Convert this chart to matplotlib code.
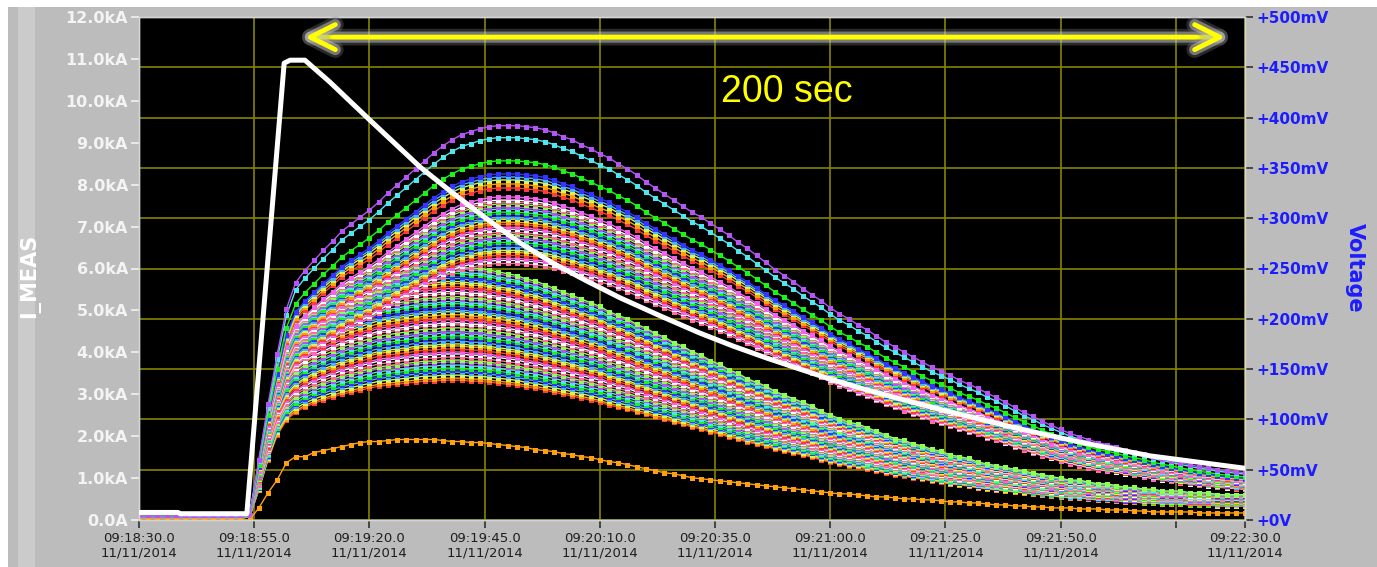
import numpy as np
import matplotlib.pyplot as plt
import matplotlib.patheffects as pe
from matplotlib.patches import Rectangle

# --- data -------------------------------------------------------------------
# sample grid of the voltage channels: seconds after 09:18:30 (2 s steps)
t_sec = np.arange(0, 241, 2)

# shape of the highest (purple) channel, mV
profile_high = [
    3, 3, 3, 3, 3, 3, 3, 3, 3, 3,
    3, 3, 5, 60, 115, 165, 210, 236, 248, 258,
    268, 277, 287, 294, 301, 308, 316, 325, 333, 341,
    349, 357, 365, 372, 378, 383, 386, 389, 391, 392,
    392, 392, 391, 390, 388, 385, 381, 378, 373, 369,
    364, 360, 354, 349, 343, 336, 330, 324, 318, 312,
    306, 301, 295, 289, 283, 276, 270, 263, 256, 249,
    243, 237, 230, 224, 218, 211, 205, 200, 194, 189,
    183, 177, 172, 167, 162, 157, 152, 148, 144, 139,
    135, 131, 126, 122, 117, 112, 107, 103, 98, 94,
    90, 86, 83, 80, 77, 75, 73, 70, 68, 66,
    63, 61, 59, 57, 55, 53, 52, 50, 49, 48,
    47]

# shape of the lowest channels of the main bundle, mV
profile_low = [
    2, 2, 2, 2, 2, 2, 2, 2, 2, 2,
    2, 2, 3, 30, 60, 85, 100, 108, 113, 117,
    120, 123, 126, 128, 130, 132, 134, 135, 136, 137,
    138, 139, 139, 140, 140, 140, 139, 139, 138, 137,
    136, 135, 133, 132, 130, 128, 126, 124, 122, 120,
    118, 115, 113, 111, 108, 106, 103, 101, 98, 96,
    93, 91, 88, 86, 83, 81, 78, 76, 74, 71,
    69, 67, 65, 63, 60, 58, 56, 54, 53, 51,
    49, 47, 45, 44, 42, 41, 39, 38, 36, 35,
    34, 32, 31, 30, 29, 28, 27, 26, 25, 24,
    23, 22, 22, 21, 20, 20, 19, 18, 18, 17,
    17, 16, 16, 16, 15, 15, 15, 14, 14, 14,
    14]

# the single low orange channel, mV
orange_mv = [
    0, 0, 0, 0, 0, 0, 0, 0, 0, 0,
    0, 0, 0, 12, 27, 40, 57, 63, 63, 67,
    69, 71, 73, 75, 77, 78, 78, 79, 80, 80,
    80, 80, 80, 79, 78, 78, 77, 77, 76, 75,
    74, 73, 72, 70, 69, 68, 66, 65, 63, 62,
    60, 58, 57, 55, 53, 51, 49, 47, 46, 44,
    42, 41, 40, 39, 38, 37, 36, 35, 34, 33,
    32, 31, 30, 29, 28, 27, 26, 26, 25, 24,
    23, 23, 22, 21, 21, 20, 20, 19, 18, 18,
    17, 17, 16, 15, 15, 14, 14, 13, 13, 12,
    12, 12, 11, 11, 11, 10, 10, 10, 9, 9,
    8, 8, 8, 8, 8, 7, 7, 7, 7, 7,
    7]

# peak voltage of each channel (mV)
peaks_high = [392, 380, 357, 344, 341, 338, 334, 330, 321, 318, 316, 314,
              311, 309, 306, 304, 301, 299, 296, 294, 291, 289, 286, 284,
              281, 279, 276, 274, 271, 268, 266, 263, 260, 258, 255]
peaks_low = [252, 250, 247, 245, 242, 240, 237, 235, 232, 230, 227, 225,
             222, 220, 217, 215, 212, 209, 207, 204, 201, 199, 196, 194,
             191, 188, 186, 183, 181, 178, 175, 173, 170, 167, 165, 162,
             159, 157, 154, 151, 149, 147, 144, 141, 139]

# I_MEAS (white trace), seconds after 09:18:30 and kA
cur_t = [0, 8.5, 8.9, 23.4, 31.5, 32.8, 36.0, 41.4, 50.1, 61.0, 68.1, 75.5,
         82.7, 89.8, 97.2, 104.4, 113.1, 121.7, 128.9, 136.3, 143.4, 150.6,
         158.0, 165.1, 176.0, 190.5, 204.9, 219.4, 239.6]
cur_ka = [0.18, 0.18, 0.15, 0.15, 10.9, 10.97, 10.97, 10.45, 9.54, 8.42, 7.80,
          7.18, 6.61, 6.13, 5.70, 5.30, 4.87, 4.46, 4.15, 3.86, 3.60, 3.34,
          3.10, 2.89, 2.58, 2.19, 1.84, 1.53, 1.24]

xtick_sec = [0, 25, 50, 75, 100, 125, 150, 175, 200, 225, 240]
xtick_labels = ['09:18:30.0\n11/11/2014', '09:18:55.0\n11/11/2014',
                '09:19:20.0\n11/11/2014', '09:19:45.0\n11/11/2014',
                '09:20:10.0\n11/11/2014', '09:20:35.0\n11/11/2014',
                '09:21:00.0\n11/11/2014', '09:21:25.0\n11/11/2014',
                '09:21:50.0\n11/11/2014', '', '09:22:30.0\n11/11/2014']
ka_ticks = list(range(0, 13))
ka_labels = ['0.0A'] + ['%d.0kA' % k for k in range(1, 13)]
mv_ticks = list(range(0, 501, 50))
mv_labels = ['+0V'] + ['+%dmV' % v for v in range(50, 501, 50)]

palette = ['#b455f5', '#4fe6f0', '#19f519', '#3535ff', '#4ab4ff', '#d7f55a',
           '#ffa010', '#ff3c3c', '#f064f0', '#ffffff', '#ff6e96', '#8cff50']

# --- figure -------------------------------------------------------------------
W, H = 1377, 567
fig = plt.figure(figsize=(W / 100, H / 100), dpi=100)
fig.patch.set_facecolor('white')
fig.add_artist(Rectangle((8 / W, 0), 1 - 8 / W, 1 - 7 / H, transform=fig.transFigure,
                         facecolor='#bcbcbc', edgecolor='none', zorder=-10))
fig.add_artist(Rectangle((18 / W, 0), 17 / W, 1 - 7 / H, transform=fig.transFigure,
                         facecolor='#cbcbcb', edgecolor='none', zorder=-9))

ax = fig.add_axes([139 / W, 1 - 520 / H, (1245 - 139) / W, (520 - 17) / H])
ax.set_facecolor('black')
axi = ax.twinx()
ax.yaxis.tick_right()
axi.yaxis.tick_left()

ax.set_xlim(0, 240)
ax.set_ylim(0, 500)
axi.set_ylim(0, 12)

# voltage channels
prof_h = np.array(profile_high, dtype=float)
prof_l = np.array(profile_low, dtype=float)
curves = [(p, prof_h) for p in peaks_high] + [(p, prof_l) for p in peaks_low]
for i, (peak, prof) in reversed(list(enumerate(curves))):
    c = palette[i % len(palette)]
    ax.plot(t_sec, prof * peak / prof.max(), '-s', color=c, lw=1.0, ms=3.6,
            mec=c, mew=0)
ax.plot(t_sec, orange_mv, '-s', color='#ffa010', lw=1.0, ms=3.6, mew=0)

# current
axi.plot(cur_t, cur_ka, color='white', lw=3.6, solid_joinstyle='round', zorder=5)

# grid + ticks
ax.set_xticks(xtick_sec, xtick_labels, fontsize=9.5, color='#1e1e1e',
              linespacing=1.05)
ax.set_yticks(mv_ticks, mv_labels, fontsize=11, fontweight='bold', color='#1c1cff')
axi.set_yticks(ka_ticks, ka_labels, fontsize=11.5, fontweight='bold', color='#f4f4f4')
ax.grid(True, color='#858500', lw=1.2)
ax.set_axisbelow(True)
ax.tick_params(axis='x', length=6, width=1.2, color='#303030', pad=3)
ax.tick_params(axis='y', length=6, width=1.2, color='#303030', pad=2)
axi.tick_params(axis='y', length=6, width=1.2, color='#f0f0f0', pad=2)
for a in (ax, axi):
    for s in a.spines.values():
        s.set_color('#d4d4d4')
        s.set_linewidth(1.0)

fig.text(30 / W, 1 - 276 / H, 'I_MEAS', rotation=90, color='white',
         fontsize=15, fontweight='bold', ha='center', va='center')
fig.text(1355 / W, 1 - 268 / H, 'Voltage', rotation=270, color='#1c1cff',
         fontsize=15, fontweight='bold', ha='center', va='center')

# 200 s span marker
arr = axi.annotate('', xy=(0.982, 0.960), xytext=(0.150, 0.960),
                   xycoords='axes fraction', textcoords='axes fraction',
                   arrowprops=dict(arrowstyle='<->,head_length=0.9,head_width=0.45',
                                   color='#ffff00', lw=3.5, mutation_scale=20,
                                   shrinkA=0, shrinkB=0))
arr.arrow_patch.set_path_effects([
    pe.Stroke(linewidth=12, foreground='#8a8a8a', alpha=0.3),
    pe.Stroke(linewidth=8, foreground='#c8c8c8', alpha=0.5),
    pe.Normal()])
axi.text(0.586, 0.851, '200 sec', transform=axi.transAxes, color='#ffff00',
         fontsize=27, family='Liberation Sans', ha='center', va='center', zorder=6)

fig.savefig('out.png', dpi=100, facecolor=fig.get_facecolor())
